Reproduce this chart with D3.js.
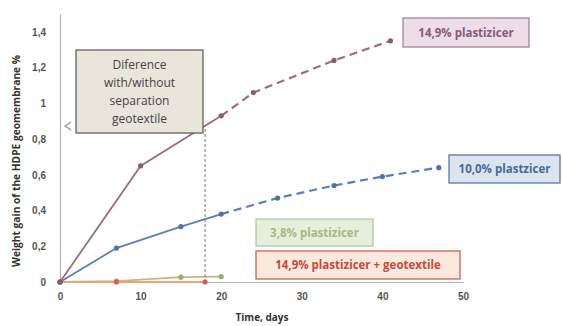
<!DOCTYPE html>
<html>
<head>
<meta charset="utf-8">
<script src="https://cdn.jsdelivr.net/npm/d3@7"></script>
<style>
  body { margin: 0; background: #fff; }
  svg { font-family: "Open Sans", "Liberation Sans", sans-serif; }
</style>
</head>
<body>
<div id="chart"></div>
<script>
// data (days, weight gain %)
const days149 = [0, 10, 20, 24, 34, 41];
const gain149 = [0, 0.65, 0.93, 1.06, 1.24, 1.35];
const days100 = [0, 7, 15, 20, 27, 34, 40, 47];
const gain100 = [0, 0.19, 0.31, 0.38, 0.47, 0.54, 0.59, 0.64];
const days38 = [0, 7, 15, 20];
const gain38 = [0, 0.005, 0.027, 0.03];
const daysGeo = [0, 7, 18];
const gainGeo = [0, 0, 0];
const solidUntil = 20; // after this the lines are dashed (extrapolated)
const diffDay = 18;
const xTicks = [0, 10, 20, 30, 40, 50];
const yTicks = [0, 0.2, 0.4, 0.6, 0.8, 1, 1.2, 1.4];

const W = 562, H = 326;
const svg = d3.select('#chart').append('svg')
  .attr('width', W).attr('height', H);

const x = d3.scaleLinear().domain([0, 50]).range([60, 463]);
const y = d3.scaleLinear().domain([0, 1.5]).range([282, 14]);

const fmt = d => String(d).replace('.', ',');

// axes
const gx = svg.append('g').attr('transform', `translate(0,${y(0)})`)
  .call(d3.axisBottom(x).tickValues(xTicks).tickSize(0).tickPadding(11));
const gy = svg.append('g').attr('transform', `translate(${x(0)},0)`)
  .call(d3.axisLeft(y).tickValues(yTicks).tickSize(0).tickPadding(14).tickFormat(fmt));
[gx, gy].forEach(g => {
  g.select('.domain').attr('stroke', '#b4b4b4').attr('stroke-width', 1.2);
  g.selectAll('text').attr('fill', '#555').style('font-size', '10px').style('font-weight', 'bold');
});

svg.append('text').attr('x', 262).attr('y', 321).attr('text-anchor', 'middle')
  .style('font-size', '10px').style('font-weight', 'bold').attr('fill', '#333')
  .text('Time, days');
svg.append('text').attr('transform', 'translate(20,161) rotate(-90)')
  .attr('text-anchor', 'middle')
  .style('font-size', '10px').style('font-weight', 'bold').attr('fill', '#333')
  .attr('textLength', 212).attr('lengthAdjust', 'spacingAndGlyphs')
  .text('Weight gain of the HDPE geomembrane %');

const line = d3.line().x(d => x(d[0])).y(d => y(d[1]));

function series(days, gains, lineColor, dotColor) {
  const pts = days.map((d, i) => [d, gains[i]]);
  const solid = pts.filter(p => p[0] <= solidUntil);
  const dashed = pts.filter(p => p[0] >= solidUntil);
  svg.append('path').datum(solid).attr('d', line)
    .attr('fill', 'none').attr('stroke', lineColor).attr('stroke-width', 1.8);
  if (dashed.length > 1) {
    svg.append('path').datum(dashed).attr('d', line)
      .attr('fill', 'none').attr('stroke', lineColor).attr('stroke-width', 2.2)
      .attr('stroke-dasharray', '8,5');
  }
  svg.selectAll(null).data(pts).enter().append('circle')
    .attr('cx', d => x(d[0])).attr('cy', d => y(d[1])).attr('r', 2.6)
    .attr('fill', dotColor);
}

series(days38, gain38, '#c8b48a', '#9aab6a');
series(daysGeo, gainGeo, '#e8a47a', '#d8604c');
series(days100, gain100, '#5b7fb5', '#4f72a8');
series(days149, gain149, '#9c6c82', '#8c5a72');

// vertical dashed line at day 18 up to the 14,9% curve
const yAt18 = gain149[1] + (gain149[2] - gain149[1]) * (diffDay - days149[1]) / (days149[2] - days149[1]);
svg.append('line')
  .attr('x1', x(diffDay)).attr('x2', x(diffDay))
  .attr('y1', y(0)).attr('y2', y(yAt18))
  .attr('stroke', '#777').attr('stroke-width', 1).attr('stroke-dasharray', '3,2');

// annotation box
svg.append('rect').attr('x', 76).attr('y', 50).attr('width', 127).attr('height', 83)
  .attr('fill', '#e9e5da').attr('stroke', '#555').attr('stroke-width', 1.2);
const noteLines = ['Diference', 'with/without', 'separation', 'geotextile'];
svg.append('text').attr('text-anchor', 'middle').attr('fill', '#444')
  .style('font-size', '12px')
  .selectAll('tspan').data(noteLines).enter().append('tspan')
  .attr('x', 139.5).attr('y', (d, i) => 69 + i * 18).text(d => d);
// small arrow pointing at axis
svg.append('path').attr('d', 'M71,122 L65,126 L71,130')
  .attr('fill', 'none').attr('stroke', '#aaa').attr('stroke-width', 1.6);

// series labels
const labels = [
  { t: '14,9% plastizicer', x: 403, y: 18, w: 126, h: 29, fill: '#ecdde6', stroke: '#a58498', color: '#8a5a7a' },
  { t: '10,0% plastzicer', x: 449, y: 155, w: 111, h: 28, fill: '#dbe5f1', stroke: '#5a78a0', color: '#4a6a95' },
  { t: '3,8% plastizicer', x: 256, y: 219, w: 117, h: 27, fill: '#e6eedc', stroke: '#b4c8a0', color: '#a4ba84' },
  { t: '14,9% plastizicer + geotextile', x: 256, y: 251, w: 204, h: 28, fill: '#fbe9de', stroke: '#d06050', color: '#c84a38' }
];
const lg = svg.selectAll('.lbl').data(labels).enter().append('g').attr('class', 'lbl');
lg.append('rect').attr('x', d => d.x).attr('y', d => d.y).attr('width', d => d.w).attr('height', d => d.h)
  .attr('fill', d => d.fill).attr('stroke', d => d.stroke).attr('stroke-width', 1.3);
lg.append('text').attr('x', d => d.x + d.w / 2).attr('y', d => d.y + d.h / 2 + 4)
  .attr('text-anchor', 'middle').attr('fill', d => d.color)
  .style('font-size', '11.5px').style('font-weight', 'bold').text(d => d.t);
</script>
</body>
</html>
